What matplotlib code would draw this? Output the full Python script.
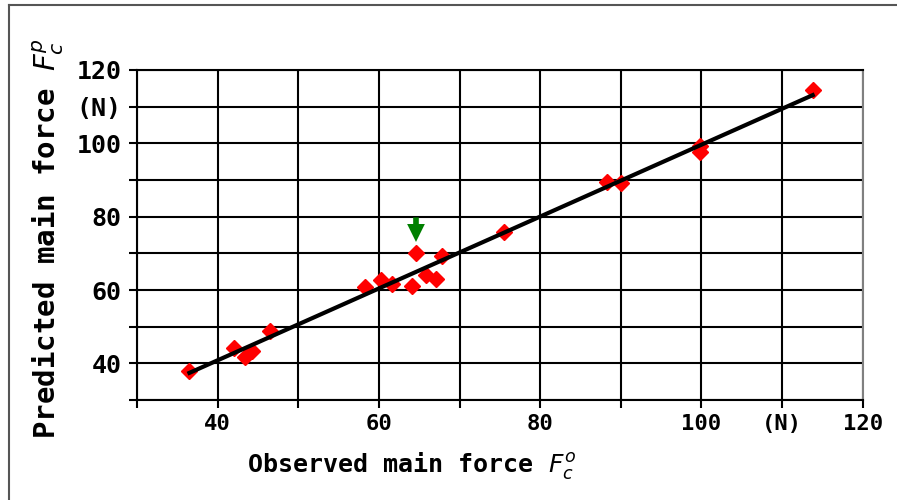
import matplotlib.pyplot as plt
import numpy as np
from matplotlib.lines import Line2D

plt.rcParams["font.family"] = ["DejaVu Sans Mono", "DejaVu Sans"]
plt.rcParams["font.weight"] = "bold"
plt.rcParams["mathtext.fontset"] = "custom"
plt.rcParams["mathtext.it"] = "DejaVu Sans:italic:normal"
plt.rcParams["mathtext.rm"] = "DejaVu Sans:normal"

# observed vs predicted main force (N)
observed = [36.5, 42.0, 43.4, 44.3, 46.5, 58.3, 60.2, 61.6, 64.1, 64.6,
            65.8, 67.1, 67.8, 75.5, 88.3, 90.0, 99.8, 99.8, 113.8]
predicted = [37.8, 44.2, 41.8, 43.3, 48.7, 60.9, 62.6, 61.5, 61.1, 70.2,
             64.2, 63.1, 69.3, 75.8, 89.5, 89.1, 99.3, 97.6, 114.5]

ticks = np.arange(30, 121, 10)
tick_labels = ["", "40", "", "60", "", "80", "", "100", "(N)", "120"]

# outlier marked by the arrow
flag_x, flag_top, flag_tip = 64.6, 79.8, 73.1

fig = plt.figure(figsize=(8.97, 5.0), dpi=100)
ax = fig.add_axes([137 / 897, 0.2, (862.7 - 137) / 897, 0.66])

# frame around the figure (left and top edges only are visible)
fx, fy = 9 / 897, 1 - 5 / 500
fig.lines.append(Line2D([fx, fx], [0, fy], transform=fig.transFigure, color="#555555", lw=1.5))
fig.lines.append(Line2D([fx, 1], [fy, fy], transform=fig.transFigure, color="#555555", lw=1.5))

ax.set_axisbelow(True)
ax.grid(True, color="black", lw=1.5)

ax.plot(observed, predicted, "D", color="red", ms=8.5, mec="red", zorder=3)

coef = np.polyfit(observed, predicted, 1)
xs = np.array([min(observed), max(observed)])
ax.plot(xs, np.polyval(coef, xs), color="black", lw=3, zorder=4)

ax.arrow(flag_x, flag_top, 0, flag_tip - flag_top, width=0.7, head_width=2.2,
         head_length=4.9, length_includes_head=True, color="green", ec="none", zorder=5)

ax.set_xlim(30, 120)
ax.set_ylim(30, 120)
ax.set_xticks(ticks)
ax.set_xticklabels(tick_labels, fontsize=16)
ax.set_yticks(ticks)
ax.set_yticklabels(tick_labels, fontsize=18)
ax.tick_params(axis="both", direction="out", length=6, width=1.5, color="black")
ax.tick_params(axis="y", pad=5)
ax.tick_params(axis="x", pad=4)

for side in ["left", "bottom", "top"]:
    ax.spines[side].set_linewidth(1.5)
ax.spines["right"].set_color("gray")
ax.spines["right"].set_linewidth(1.5)

ax.set_xlabel(r"Observed main force $F_c^o$", fontsize=18, fontweight="bold")
ax.xaxis.set_label_coords((412 - 137) / 725.7, -0.2)
ax.xaxis.label.set_va("center")
ax.set_ylabel(r"Predicted main force $F_c^p$", fontsize=21, fontweight="bold")
ax.yaxis.set_label_coords((48 - 137) / 725.7, 0.49)
ax.yaxis.label.set_va("center")

fig.savefig("out.png", dpi=100)
